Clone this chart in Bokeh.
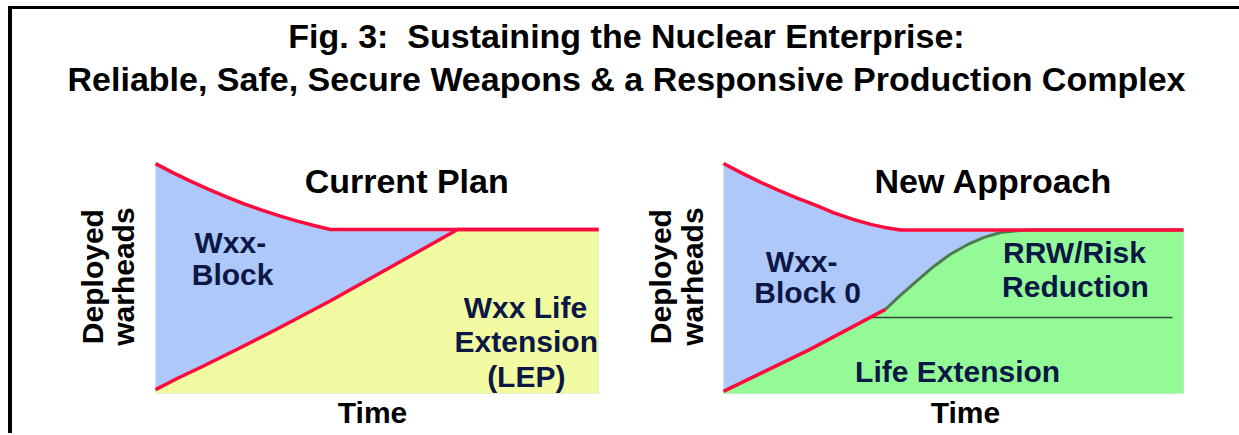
from bokeh.plotting import figure
from bokeh.layouts import column, row
from bokeh.models import Label, Range1d
from bokeh.embed import file_html
from bokeh.resources import INLINE

# ---------------- data (time 0-10, deployed warheads index 0-100) ----------------
# Current Plan
cp_top_t = [0.0, 0.40, 0.80, 1.20, 1.60, 2.00, 2.40, 2.80, 3.20, 3.60, 3.95, 10.0]
cp_top_w = [99.5, 95.5, 91.8, 88.4, 85.1, 82.1, 79.4, 76.9, 74.6, 72.6, 71.0, 71.0]
cp_lep_t = [0.0, 0.50, 1.06, 1.80, 2.70, 3.92, 5.14, 6.82, 10.0]
cp_lep_w = [1.7, 6.6, 11.7, 18.7, 27.5, 39.8, 52.9, 71.0, 71.0]

# New Approach
na_top_t = [0.0, 0.40, 0.80, 1.20, 1.60, 2.00, 2.40, 2.80, 3.20, 3.50, 3.85, 10.0]
na_top_w = [99.6, 95.4, 91.5, 87.9, 84.6, 81.5, 78.2, 75.5, 73.2, 71.9, 70.8, 70.8]
na_lep_t = [0.0, 1.87, 3.52]
na_lep_w = [0.9, 19.0, 36.4]
na_rrw_t = [3.52, 3.85, 4.21, 4.57, 4.93, 5.30, 5.65, 6.02, 6.38, 6.60, 10.0]
na_rrw_w = [36.4, 42.6, 48.9, 55.0, 60.3, 64.4, 67.5, 69.7, 70.4, 70.8, 70.8]
na_split_t = [3.23, 9.76]
na_split_w = [32.9, 32.9]

title_lines = ["Fig. 3:\u00a0 Sustaining the Nuclear Enterprise:",
               "Reliable, Safe, Secure Weapons & a Responsive Production Complex"]

# ---------------- styles ----------------
FONT = "Liberation Sans"
BLUE = "#afc8fa"
YELLOW = "#f3fba2"
GREEN = "#94fa98"
RED = "#ff0a3c"
DKGREEN = "#4e7b4e"
NAVY = "#0b1744"


def panel_fig(width, height, x0, x1, y0, y1):
    p = figure(width=width, height=height,
               x_range=Range1d(x0, x1), y_range=Range1d(y0, y1),
               output_backend="svg", toolbar_location=None,
               x_axis_location=None, y_axis_location=None, min_border=0)
    p.title = None
    p.outline_line_color = None
    p.xgrid.visible = False
    p.ygrid.visible = False
    p.background_fill_color = "white"
    p.border_fill_color = "white"
    return p


def lab(p, x, y, text, size, color="black", angle=0.0):
    p.add_layout(Label(x=x, y=y, text=text, text_font=FONT, text_font_style="bold",
                       text_font_size=f"{size}px", text_color=color, angle=angle,
                       text_align="center", text_baseline="middle"))


# layout geometry (pixels): origin of content at (12, 9)
ROW_TOP, ROW_BOT = 140, 433
PX_T0, PX_T10_1 = 155, 598      # panel 1 time axis pixel span
PX_T0_2, PX_T10_2 = 723, 1183   # panel 2 time axis pixel span
PY_W0, PY_W100 = 393, 162       # warheads axis pixel span
sy = (PY_W0 - PY_W100) / 100.0
y_lo, y_hi = (PY_W0 - ROW_BOT) / sy, (PY_W0 - ROW_TOP) / sy

# ---------------- title ----------------
pt = panel_fig(1227, 131, 0, 1227, 0, 131)
lab(pt, 614, 104.5, title_lines[0], 34)
lab(pt, 614, 61.5, title_lines[1], 34)

# ---------------- panel 1: Current Plan ----------------
sx1 = (PX_T10_1 - PX_T0) / 10.0
p1 = panel_fig(608, ROW_BOT - ROW_TOP, (12 - PX_T0) / sx1, (620 - PX_T0) / sx1, y_lo, y_hi)
p1.varea(x=cp_top_t, y1=0, y2=cp_top_w, fill_color=BLUE)
p1.varea(x=cp_lep_t, y1=0, y2=cp_lep_w, fill_color=YELLOW)
p1.line(cp_top_t, cp_top_w, line_color=RED, line_width=3.5)
p1.line(cp_lep_t, cp_lep_w, line_color=RED, line_width=3.5)
lab(p1, 5.67, 91.8, "Current Plan", 34)
lab(p1, 1.69, 65.4, "Wxx-", 30, NAVY)
lab(p1, 1.74, 51.6, "Block", 30, NAVY)
lab(p1, 8.35, 37.2, "Wxx Life", 30, NAVY)
lab(p1, 8.37, 22.5, "Extension", 30, NAVY)
lab(p1, 8.37, 7.3, "(LEP)", 30, NAVY)
lab(p1, 4.90, -8.2, "Time", 30)
lab(p1, -1.42, 50.6, "Deployed", 30, angle=1.5708)
lab(p1, -0.72, 50.6, "warheads", 30, angle=1.5708)

# ---------------- panel 2: New Approach ----------------
sx2 = (PX_T10_2 - PX_T0_2) / 10.0
p2 = panel_fig(619, ROW_BOT - ROW_TOP, (620 - PX_T0_2) / sx2, (1239 - PX_T0_2) / sx2, y_lo, y_hi)
p2.varea(x=na_top_t, y1=0, y2=na_top_w, fill_color=BLUE)
p2.varea(x=na_lep_t + na_rrw_t, y1=0, y2=na_lep_w + na_rrw_w, fill_color=GREEN)
p2.line(na_split_t, na_split_w, line_color="#2e4a38", line_width=1.5)
p2.line(na_rrw_t, na_rrw_w, line_color=DKGREEN, line_width=3)
p2.line(na_top_t, na_top_w, line_color=RED, line_width=3.5)
p2.line(na_lep_t, na_lep_w, line_color=RED, line_width=3.5)
lab(p2, 5.87, 91.8, "New Approach", 34)
lab(p2, 1.70, 57.1, "Wxx-", 30, NAVY)
lab(p2, 1.83, 43.7, "Block 0", 30, NAVY)
lab(p2, 7.63, 61.0, "RRW/Risk", 30, NAVY)
lab(p2, 7.65, 46.3, "Reduction", 30, NAVY)
lab(p2, 5.09, 9.5, "Life Extension", 30, NAVY)
lab(p2, 5.26, -8.2, "Time", 30)
lab(p2, -1.37, 50.6, "Deployed", 30, angle=1.5708)
lab(p2, -0.67, 50.6, "warheads", 30, angle=1.5708)

layout = column(pt, row(p1, p2),
                styles={"margin-left": "8px", "margin-top": "6px",
                        "border-left": "4px solid black", "border-top": "3px solid black"})

open("out.html", "w").write(file_html(layout, INLINE))
